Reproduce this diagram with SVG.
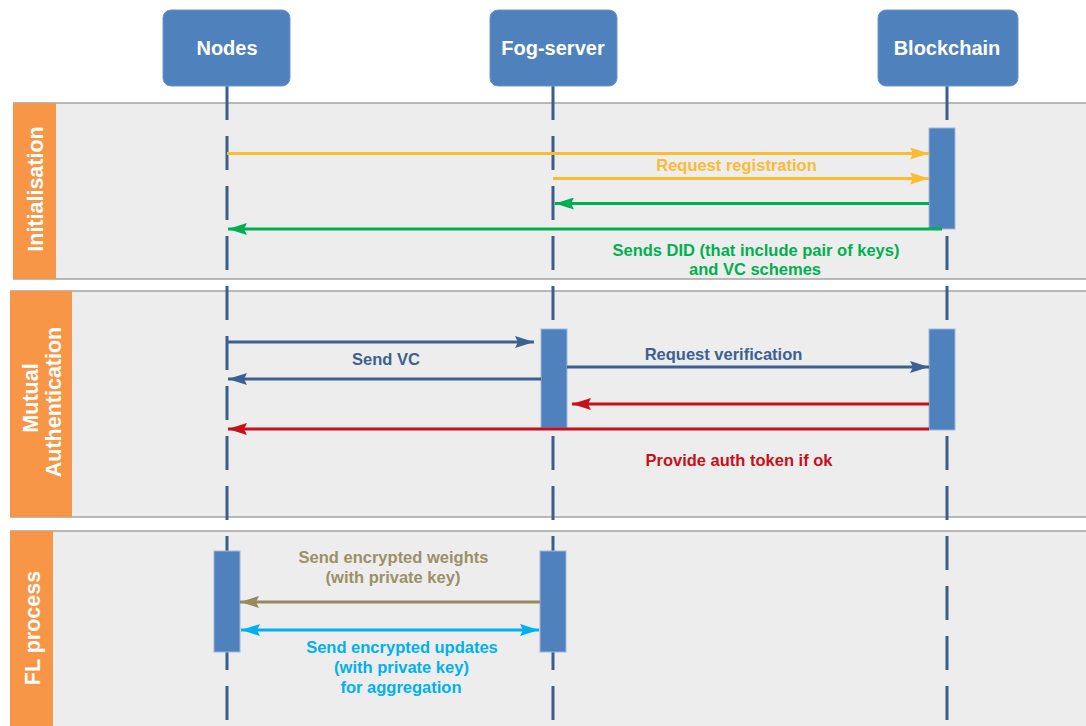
<svg xmlns="http://www.w3.org/2000/svg" width="1086" height="726" viewBox="0 0 1086 726">
  <style>
    .band { fill: #ededed; }
    .band-edge { stroke: #a3a3a3; stroke-width: 1.5; fill: none; }
    .phase { fill: #f79646; }
    .phase-text { font-family: "Liberation Sans", Arial, sans-serif; font-weight: bold; font-size: 21.5px; fill: #ffffff; text-anchor: middle; }
    .actor { fill: #4f81bd; stroke: #6c95c9; stroke-width: 1; }
    .actor-text { font-family: "Liberation Sans", Arial, sans-serif; font-weight: bold; font-size: 20px; fill: #ffffff; text-anchor: middle; }
    .lifeline { stroke: #3b5e8c; stroke-width: 3; stroke-dasharray: 34 16; fill: none; }
    .bar { fill: #4f81bd; stroke: #9fb8da; stroke-width: 1; }
    .msg { stroke-width: 3; fill: none; }
    .label { font-family: "Liberation Sans", Arial, sans-serif; font-weight: bold; font-size: 16.5px; text-anchor: middle; }
    .yellow { stroke: #fbbc34; }
    .green { stroke: #00b050; }
    .blue { stroke: #3c6191; }
    .red { stroke: #c8101a; }
    .olive { stroke: #958b5e; }
    .cyan { stroke: #00b0f0; }
  </style>
  <defs>
    <marker id="ah-yellow" markerUnits="userSpaceOnUse" markerWidth="20" markerHeight="12" refX="19" refY="6" orient="auto-start-reverse">
      <path d="M0,0 L19,6 L0,12 L3,6 Z" fill="#fbbc34"/>
    </marker>
    <marker id="ah-green" markerUnits="userSpaceOnUse" markerWidth="20" markerHeight="12" refX="19" refY="6" orient="auto-start-reverse">
      <path d="M0,0 L19,6 L0,12 L3,6 Z" fill="#00b050"/>
    </marker>
    <marker id="ah-blue" markerUnits="userSpaceOnUse" markerWidth="20" markerHeight="12" refX="19" refY="6" orient="auto-start-reverse">
      <path d="M0,0 L19,6 L0,12 L3,6 Z" fill="#3c6191"/>
    </marker>
    <marker id="ah-red" markerUnits="userSpaceOnUse" markerWidth="20" markerHeight="12" refX="19" refY="6" orient="auto-start-reverse">
      <path d="M0,0 L19,6 L0,12 L3,6 Z" fill="#c8101a"/>
    </marker>
    <marker id="ah-olive" markerUnits="userSpaceOnUse" markerWidth="20" markerHeight="12" refX="19" refY="6" orient="auto-start-reverse">
      <path d="M0,0 L19,6 L0,12 L3,6 Z" fill="#958b5e"/>
    </marker>
    <marker id="ah-cyan" markerUnits="userSpaceOnUse" markerWidth="20" markerHeight="12" refX="19" refY="6" orient="auto-start-reverse">
      <path d="M0,0 L19,6 L0,12 L3,6 Z" fill="#00b0f0"/>
    </marker>
  </defs>

  <rect width="1086" height="726" fill="#ffffff"/>

  <!-- Phase bands -->
  <g id="phase-initialisation">
    <rect class="band" x="13" y="103" width="1073" height="176"/>
    <line class="band-edge" x1="13" y1="103" x2="1086" y2="103"/>
    <line class="band-edge" x1="13" y1="279" x2="1086" y2="279"/>
    <rect class="phase" x="13" y="103" width="43" height="176"/>
    <text class="phase-text" transform="translate(42.5,189) rotate(-90)">Initialisation</text>
  </g>
  <g id="phase-mutual-authentication">
    <rect class="band" x="10" y="291" width="1076" height="226"/>
    <line class="band-edge" x1="10" y1="291" x2="1086" y2="291"/>
    <line class="band-edge" x1="10" y1="517" x2="1086" y2="517"/>
    <rect class="phase" x="10" y="291" width="62" height="226"/>
    <text class="phase-text" transform="translate(38,398) rotate(-90)">Mutual</text>
    <text class="phase-text" transform="translate(61,402) rotate(-90)">Authentication</text>
  </g>
  <g id="phase-fl-process">
    <rect class="band" x="10" y="531" width="1076" height="195"/>
    <line class="band-edge" x1="10" y1="531" x2="1086" y2="531"/>
    <rect class="phase" x="10" y="531" width="43" height="195"/>
    <text class="phase-text" transform="translate(39.5,628) rotate(-90)">FL process</text>
  </g>

  <!-- Actors with their lifelines -->
  <g id="actor-nodes">
    <line class="lifeline" x1="227" y1="86" x2="227" y2="726"/>
    <rect class="actor" x="163" y="10" width="127" height="76" rx="8"/>
    <text class="actor-text" x="227" y="55">Nodes</text>
  </g>
  <g id="actor-fog-server">
    <line class="lifeline" x1="553" y1="86" x2="553" y2="726"/>
    <rect class="actor" x="490" y="10" width="127" height="76" rx="8"/>
    <text class="actor-text" x="553" y="55">Fog-server</text>
  </g>
  <g id="actor-blockchain">
    <line class="lifeline" x1="947" y1="86" x2="947" y2="726"/>
    <rect class="actor" x="878" y="10" width="140" height="76" rx="8"/>
    <text class="actor-text" x="947" y="55">Blockchain</text>
  </g>

  <!-- Activation bars -->
  <g id="activations">
    <rect class="bar" x="929" y="128" width="26" height="101"/>
    <rect class="bar" x="541" y="329" width="26" height="99"/>
    <rect class="bar" x="929" y="329" width="26" height="101"/>
    <rect class="bar" x="214" y="551" width="26" height="101"/>
    <rect class="bar" x="540" y="551" width="26" height="101"/>
  </g>

  <!-- Messages -->
  <g id="connectors">
    <line class="msg yellow" x1="227" y1="153.5" x2="929" y2="153.5" marker-end="url(#ah-yellow)"/>
    <line class="msg yellow" x1="553" y1="178.5" x2="929" y2="178.5" marker-end="url(#ah-yellow)"/>
    <line class="msg green" x1="929" y1="203.5" x2="555" y2="203.5" marker-end="url(#ah-green)"/>
    <line class="msg green" x1="942" y1="229" x2="228" y2="229" marker-end="url(#ah-green)"/>

    <line class="msg blue" x1="227" y1="342" x2="534" y2="342" marker-end="url(#ah-blue)"/>
    <line class="msg blue" x1="541" y1="379" x2="228" y2="379" marker-end="url(#ah-blue)"/>
    <line class="msg blue" x1="567" y1="367" x2="929" y2="367" marker-end="url(#ah-blue)"/>
    <line class="msg red" x1="929" y1="404" x2="572" y2="404" marker-end="url(#ah-red)"/>
    <line class="msg red" x1="929" y1="429" x2="228" y2="429" marker-end="url(#ah-red)"/>

    <line class="msg olive" x1="540" y1="602" x2="240" y2="602" marker-end="url(#ah-olive)"/>
    <line class="msg cyan" x1="241" y1="630" x2="539" y2="630" marker-start="url(#ah-cyan)" marker-end="url(#ah-cyan)"/>
  </g>

  <!-- Message labels -->
  <g id="labels">
    <text class="label" x="736.5" y="170.5" fill="#fbbc34">Request registration</text>
    <text class="label" x="756" y="256" fill="#00b050">Sends DID (that include pair of keys)</text>
    <text class="label" x="755" y="275" fill="#00b050">and VC schemes</text>
    <text class="label" x="386" y="365" fill="#3c6191">Send VC</text>
    <text class="label" x="723.5" y="359.5" fill="#3c6191">Request verification</text>
    <text class="label" x="739" y="465.5" fill="#c8101a">Provide auth token if ok</text>
    <text class="label" x="393.5" y="562.5" fill="#9b9068">Send encrypted weights</text>
    <text class="label" x="393" y="582.5" fill="#9b9068">(with private key)</text>
    <text class="label" x="402" y="653.3" fill="#00b0f0">Send encrypted updates</text>
    <text class="label" x="401.5" y="673" fill="#00b0f0">(with private key)</text>
    <text class="label" x="401" y="692.7" fill="#00b0f0">for aggregation</text>
  </g>
</svg>
